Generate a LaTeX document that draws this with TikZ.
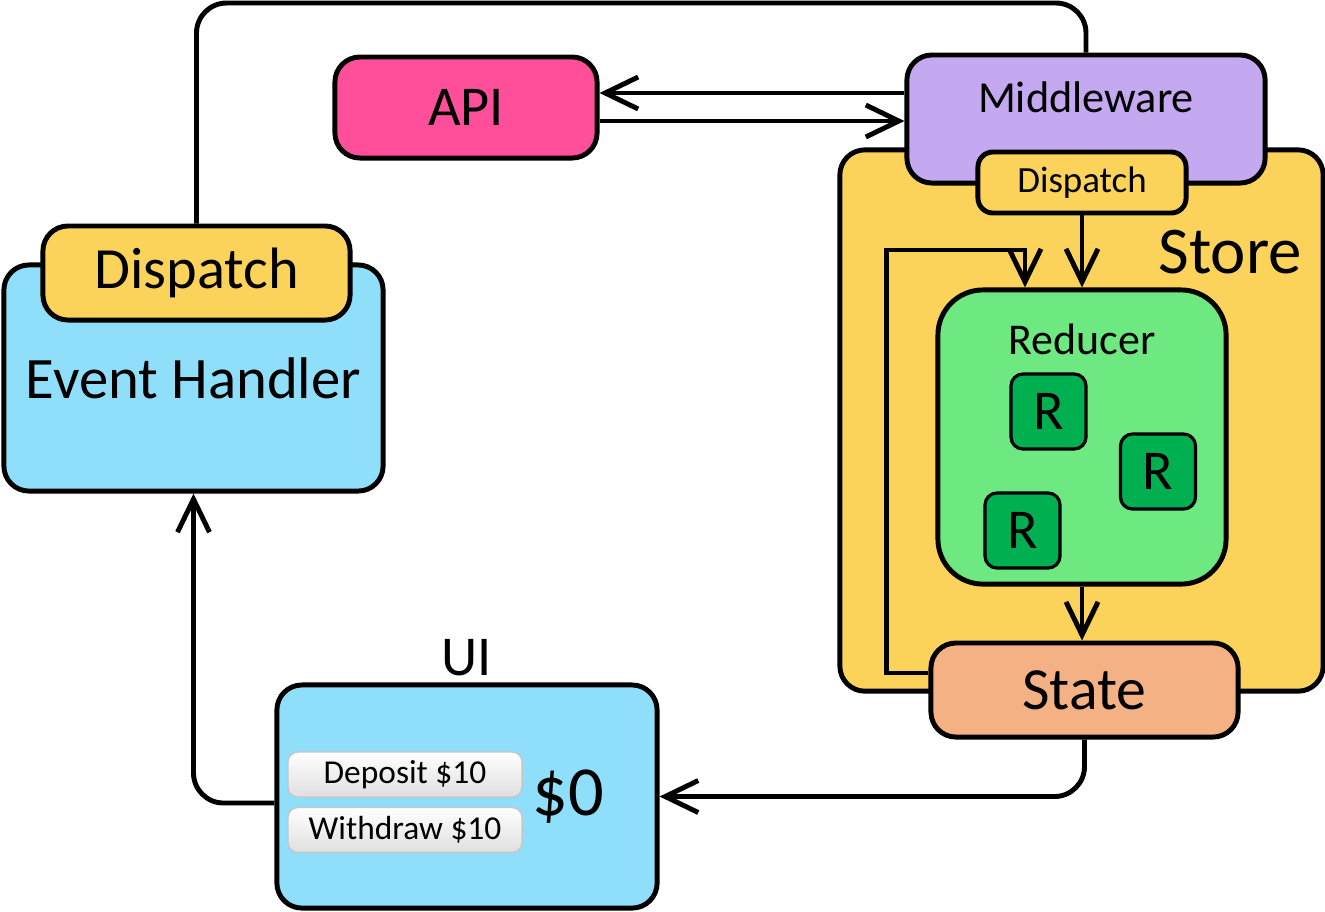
\documentclass[tikz,border=0pt]{standalone}
\usepackage{fontspec}
\setmainfont{Carlito}
\usepackage{tikz}
\usetikzlibrary{arrows.meta}
\usetikzlibrary{calc}

\definecolor{apipink}{RGB}{255,79,155}
\definecolor{mwpurple}{RGB}{196,168,240}
\definecolor{storeyellow}{RGB}{252,211,90}
\definecolor{redgreen}{RGB}{110,232,128}
\definecolor{rgreen}{RGB}{0,176,80}
\definecolor{statesalmon}{RGB}{244,177,131}
\definecolor{uiblue}{RGB}{143,223,250}

\newcommand{\fs}[1]{\fontsize{#1}{#1}\selectfont}

\begin{document}
\begin{tikzpicture}[x=0.01cm, y=-0.01cm, line width=1.4pt, >={Straight Barb[length=3.3mm, width=3.2mm]},
    main/.style = {draw, rounded corners=2.5mm, inner sep=0pt},
    txt/.style = {inner sep=0pt},
    btn/.style = {draw=gray!45, line width=0.4pt, rounded corners=1mm, top color=white, bottom color=gray!25, inner sep=0pt, minimum width=2.34cm, minimum height=0.45cm, font=\fs{9.5}}]
    \useasboundingbox (0, 0) rectangle (1325, 911);

    \node [main, fill=storeyellow, minimum width=4.83cm, minimum height=5.41cm] (0) at (1081.5, 420.5) {};
    \node [txt, font=\fs{19}] (16) at (1230, 252) {Store};
    \node [main, fill=mwpurple, minimum width=3.58cm, minimum height=1.28cm] (1) at (1086, 119) {};
    \node [txt, font=\fs{12.6}] (17) at (1086, 97) {Middleware};
    \node [main, fill=storeyellow, rounded corners=1.5mm, minimum width=2.08cm, minimum height=0.61cm, font=\fs{10.5}] (2) at (1082, 182.5) {Dispatch};
    \node [main, fill=redgreen, rounded corners=4.5mm, minimum width=2.88cm, minimum height=2.94cm] (3) at (1082, 437) {};
    \node [txt, font=\fs{12.5}] (18) at (1082, 339) {Reducer};
    \node [main, fill=rgreen, line width=0.9pt, rounded corners=1.2mm, minimum size=0.75cm, font=\fs{16}] (4) at (1048.5, 411.5) {R};
    \node [main, fill=rgreen, line width=0.9pt, rounded corners=1.2mm, minimum size=0.75cm, font=\fs{16}] (5) at (1158, 471.5) {R};
    \node [main, fill=rgreen, line width=0.9pt, rounded corners=1.2mm, minimum size=0.75cm, font=\fs{16}] (6) at (1022.5, 530.5) {R};
    \node [main, fill=statesalmon, minimum width=3.07cm, minimum height=0.94cm, font=\fs{17}] (7) at (1084.5, 690) {State};

    \node [main, fill=apipink, minimum width=2.62cm, minimum height=1.01cm, font=\fs{16}] (8) at (466, 107.5) {API};
    \node [main, fill=uiblue, minimum width=3.79cm, minimum height=2.26cm, font=\fs{16.7}] (9) at (193.5, 378) {Event Handler};
    \node [main, fill=storeyellow, minimum width=3.07cm, minimum height=0.94cm, font=\fs{16.6}] (10) at (196.5, 273) {Dispatch};

    \node [main, fill=uiblue, minimum width=3.80cm, minimum height=2.23cm] (11) at (467, 796.5) {};
    \node [txt, font=\fs{16}] (15) at (467, 658) {UI};
    \node [btn] (12) at (405, 774.5) {Deposit \$10};
    \node [btn] (13) at (405, 830) {Withdraw \$10};
    \node [txt, font=\fs{20}] (14) at (568, 797) {\$0};

    \coordinate (t) at (640, 3);
    \coordinate (a) at ([yshift=2.6mm]1.west);
    \coordinate (b) at ([yshift=-0.2mm]1.west);
    \coordinate (c) at ([yshift=1.7mm]7.west);
    \coordinate (d) at (1025, 250);
    \coordinate (e) at ([yshift=-0.65mm]11.west);

    \draw[rounded corners=3mm] (10.north) |- (t) -| (1.north);
    \draw[->] (a) -- (a -| 8.east);
    \draw[->] (b -| 8.east) -- (b);
    \draw[->] (2.south) -- (2.south |- 3.north);
    \draw[->] (3.south) -- (3.south |- 7.north);
    \draw[->] (c) -- ++(-42, 0) |- (d) -- (d |- 3.north);
    \draw[->, rounded corners=3mm] (7.south) |- (11.east);
    \draw[->, rounded corners=3mm] (e) -| (9.south);

\end{tikzpicture}
\end{document}
